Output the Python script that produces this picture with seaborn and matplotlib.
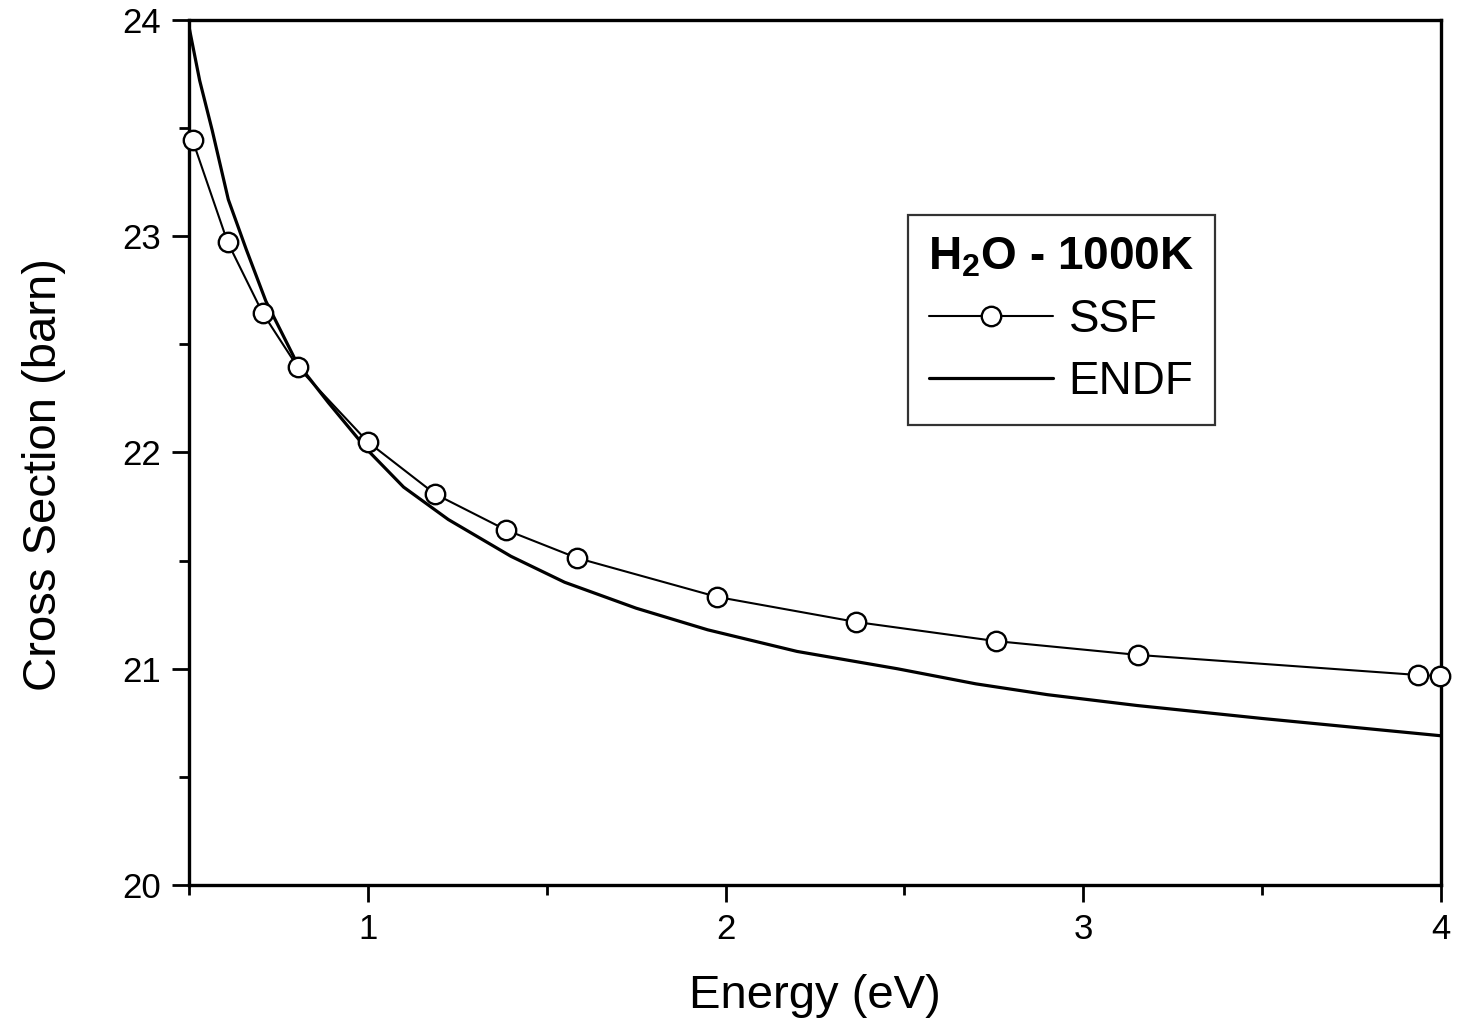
import matplotlib
matplotlib.use("Agg")
import matplotlib.pyplot as plt
import seaborn as sns
import pandas as pd
from matplotlib.ticker import MultipleLocator

ssf_energy = [0.51, 0.608, 0.706, 0.804, 1.0, 1.188, 1.386, 1.585, 1.977, 2.366, 2.755, 3.152, 3.936, 3.997]
ssf_xs = [23.445, 22.973, 22.645, 22.395, 22.049, 21.808, 21.642, 21.512, 21.332, 21.216, 21.128, 21.064, 20.971, 20.966]

endf_energy = [0.5, 0.53, 0.565, 0.61, 0.66, 0.715, 0.8, 0.89, 1.0, 1.1, 1.225, 1.4, 1.55, 1.75, 1.95, 2.2, 2.48, 2.7, 2.9, 3.15, 3.5, 3.75, 4.0]
endf_xs = [23.97, 23.72, 23.49, 23.17, 22.94, 22.70, 22.42, 22.23, 22.01, 21.84, 21.69, 21.52, 21.40, 21.28, 21.18, 21.08, 21.00, 20.93, 20.88, 20.83, 20.77, 20.73, 20.69]

sns.set_theme(style="ticks")
plt.rcParams['font.family'] = ['Liberation Sans', 'DejaVu Sans']
plt.rcParams['mathtext.fontset'] = 'custom'
plt.rcParams['mathtext.rm'] = 'Liberation Sans:bold'
plt.rcParams['mathtext.bf'] = 'Liberation Sans:bold'
plt.rcParams['text.color'] = 'black'
plt.rcParams['axes.labelcolor'] = 'black'
plt.rcParams['xtick.color'] = 'black'
plt.rcParams['ytick.color'] = 'black'

fig = plt.figure(figsize=(14.59, 10.25), dpi=100)
ax = fig.add_axes([0.1295, 0.1366, 0.8582, 0.8439])

df_ssf = pd.DataFrame({"E": ssf_energy, "XS": ssf_xs})
df_endf = pd.DataFrame({"E": endf_energy, "XS": endf_xs})

sns.lineplot(data=df_ssf, x="E", y="XS", ax=ax, color="black", lw=1.5,
             marker="o", markersize=14, markerfacecolor="white",
             markeredgecolor="black", markeredgewidth=1.7, label="SSF",
             estimator=None, clip_on=False, zorder=3)
sns.lineplot(data=df_endf, x="E", y="XS", ax=ax, color="black", lw=2.3,
             label="ENDF", estimator=None, zorder=2)

ax.set_xlim(0.5, 4)
ax.set_ylim(20, 24)
ax.xaxis.set_major_locator(MultipleLocator(1))
ax.xaxis.set_minor_locator(MultipleLocator(0.5))
ax.yaxis.set_major_locator(MultipleLocator(1))
ax.yaxis.set_minor_locator(MultipleLocator(0.5))
ax.tick_params(which="major", direction="out", length=12, width=2, labelsize=25, pad=8)
ax.tick_params(which="minor", direction="out", length=7, width=2)
for s in ax.spines.values():
    s.set_linewidth(2.4)
    s.set_color("black")
    s.set_visible(True)

ax.set_xlabel("Energy (eV)", fontsize=34, labelpad=20)
ax.set_ylabel("Cross Section (barn)", fontsize=34)
ax.yaxis.set_label_coords(-0.098, 0.475)

leg = ax.legend(title=r"$\mathbf{H_2O}$ - 1000K", loc="upper left",
                bbox_to_anchor=(0.574, 0.775), fontsize=33, frameon=True,
                fancybox=False, edgecolor="black", handlelength=2.7,
                handletextpad=0.35, borderpad=0.45, labelspacing=0.4,
                markerscale=1.0, borderaxespad=0)
leg.get_title().set_fontsize(33)
leg.get_title().set_fontweight("bold")
leg.get_frame().set_linewidth(1.6)
leg._legend_box.align = "center"

fig.savefig("out.png", dpi=100, facecolor="white")
